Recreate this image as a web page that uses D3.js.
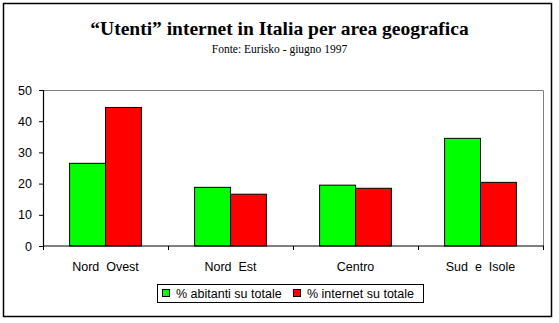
<!DOCTYPE html>
<html>
<head>
<meta charset="utf-8">
<script src="https://cdn.jsdelivr.net/npm/d3@7"></script>
<style>
  html, body { margin: 0; padding: 0; background: #fff; }
  svg { display: block; }
</style>
</head>
<body>
<svg id="chart" width="559" height="323"></svg>
<script>
// Survey data: Eurisko, June 1997
const categories = ["Nord  Ovest", "Nord  Est", "Centro", "Sud  e  Isole"];
const abitanti = [26.5, 18.8, 19.5, 34.5];   // % abitanti su totale
const internet = [44.4, 16.6, 18.5, 20.4];   // % internet su totale
const seriesNames = ["% abitanti su totale", "% internet su totale"];
const seriesColors = ["#00ff00", "#ff0000"];
const yTicks = [0, 10, 20, 30, 40, 50];

const svg = d3.select("#chart");
const sans = "Liberation Sans, Arial, sans-serif";
const serif = "Liberation Serif, Times New Roman, serif";

// outer frame
svg.append("rect").attr("x", 3.5).attr("y", 3.5).attr("width", 548).attr("height", 313)
  .attr("fill", "#fff").attr("stroke", "#000").attr("stroke-width", 1.5);

// titles
svg.append("text").attr("x", 279.5).attr("y", 35).attr("text-anchor", "middle")
  .attr("font-family", serif).attr("font-weight", "bold")
  .attr("font-size", 19.5).text("“Utenti” internet in Italia per area geografica");
svg.append("text").attr("x", 279.5).attr("y", 53).attr("text-anchor", "middle")
  .attr("font-family", serif)
  .attr("font-size", 11.5).text("Fonte: Eurisko - giugno 1997");

const plot = { left: 43, right: 543, top: 90, bottom: 246 };

const x0 = d3.scaleBand().domain(categories).range([plot.left, plot.right]).paddingInner(0).paddingOuter(0);
const x1 = d3.scaleBand().domain([0, 1]).range([0, x0.bandwidth()]).paddingOuter(0.74).paddingInner(0);
const y = d3.scaleLinear().domain([0, 50]).range([plot.bottom, plot.top]);

// plot area border (top and right, grey)
svg.append("path")
  .attr("d", `M${plot.left},${plot.top + 0.5}H${plot.right + 0.5}V${plot.bottom}`)
  .attr("fill", "none").attr("stroke", "#808080").attr("stroke-width", 1);

// bars
const data = categories.map((c, i) => ({ c, v: [abitanti[i], internet[i]] }));
const g = svg.append("g");
data.forEach(d => {
  d.v.forEach((v, s) => {
    g.append("rect")
      .attr("x", x0(d.c) + x1(s))
      .attr("y", y(v))
      .attr("width", x1.bandwidth())
      .attr("height", y(0) - y(v))
      .attr("fill", seriesColors[s])
      .attr("stroke", "#000").attr("stroke-width", 1);
  });
});

// y axis
const yAxis = d3.axisLeft(y).tickValues(yTicks).tickSize(4).tickPadding(7);
const ya = svg.append("g").attr("transform", `translate(${plot.left},0)`).call(yAxis);
ya.select(".domain").attr("stroke", "#000").attr("stroke-width", 1.2);
ya.selectAll("text").attr("font-family", sans).attr("font-size", 12.5).attr("fill", "#000");

// x axis with tick marks at category boundaries
svg.append("line").attr("x1", plot.left).attr("x2", plot.right + 1)
  .attr("y1", plot.bottom).attr("y2", plot.bottom).attr("stroke", "#000").attr("stroke-width", 1.2);
const bounds = categories.map(c => x0(c)).concat([plot.right]);
svg.selectAll(".xt").data(bounds).enter().append("line")
  .attr("x1", d => d + 0.5).attr("x2", d => d + 0.5)
  .attr("y1", plot.bottom).attr("y2", plot.bottom + 4).attr("stroke", "#000");
svg.selectAll(".xl").data(categories).enter().append("text")
  .attr("x", d => x0(d) + x0.bandwidth() / 2).attr("y", 271)
  .attr("text-anchor", "middle").style("white-space", "pre").attr("xml:space", "preserve")
  .attr("font-family", sans).attr("font-size", 12.5)
  .text(d => d);

// legend
const lg = svg.append("g");
lg.append("rect").attr("x", 157.5).attr("y", 284.5).attr("width", 266).attr("height", 18)
  .attr("fill", "#fff").attr("stroke", "#000");
const legendX = [162, 293];
seriesNames.forEach((n, i) => {
  lg.append("rect").attr("x", legendX[i] + 0.5).attr("y", 289.5).attr("width", 7).attr("height", 7)
    .attr("fill", seriesColors[i]).attr("stroke", "#000");
  lg.append("text").attr("x", legendX[i] + 14).attr("y", 298)
    .attr("font-family", sans).attr("font-size", 12.5).text(n);
});
</script>
</body>
</html>
